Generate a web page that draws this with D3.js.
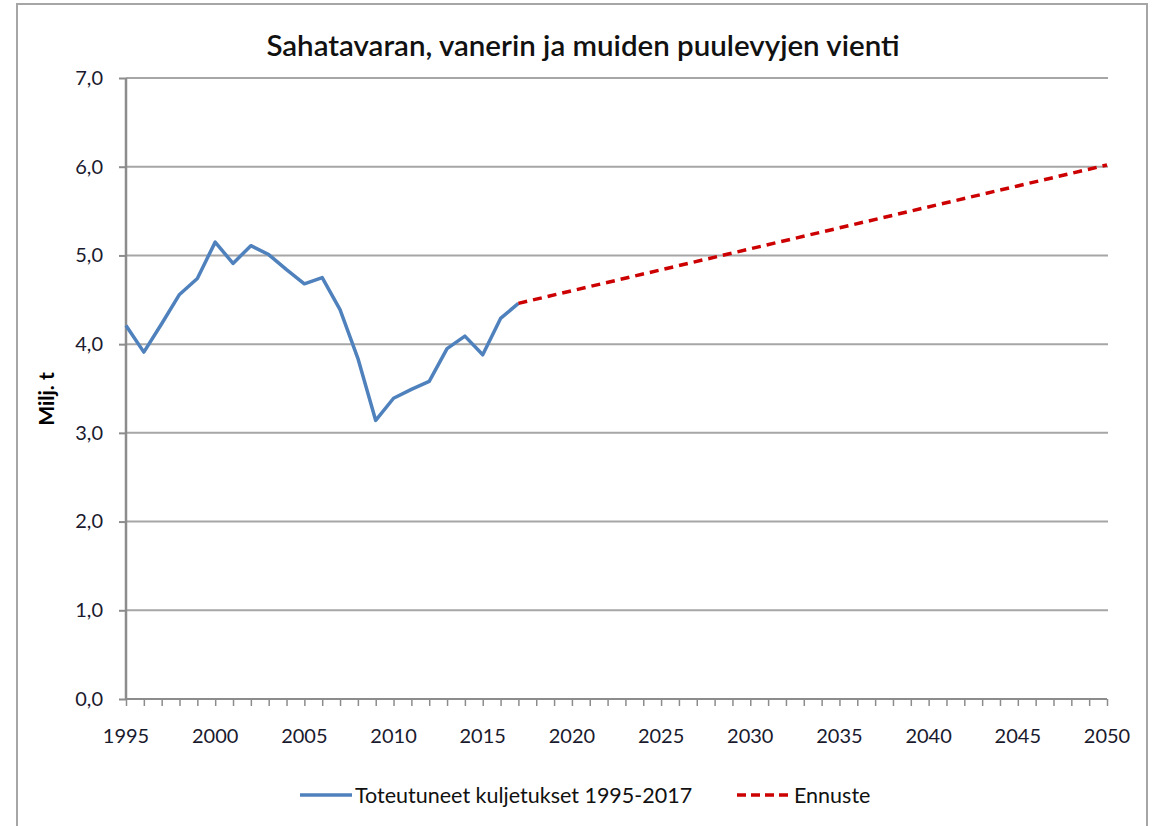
<!DOCTYPE html>
<html><head><meta charset="utf-8">
<script src="https://cdn.jsdelivr.net/npm/d3@7"></script>
<style>body{margin:0;background:#fff}svg{display:block}text{font-family:Lato,"Open Sans",sans-serif}</style>
</head><body>
<script>
const title = "Sahatavaran, vanerin ja muiden puulevyjen vienti";
const yAxisTitle = "Milj. t";
const actualYears = [1995,1996,1997,1998,1999,2000,2001,2002,2003,2004,2005,2006,2007,2008,2009,2010,2011,2012,2013,2014,2015,2016,2017];
const actualValues = [4.21,3.91,4.23,4.56,4.74,5.15,4.91,5.11,5.01,4.84,4.68,4.75,4.39,3.84,3.14,3.39,3.49,3.58,3.95,4.09,3.88,4.29,4.46];
const forecastYears = [2017,2050];
const forecastValues = [4.46,6.02];
const yTicks = [0,1,2,3,4,5,6,7];
const xLabelYears = [1995,2000,2005,2010,2015,2020,2025,2030,2035,2040,2045,2050];
const legendLabels = ["Toteutuneet kuljetukset 1995-2017","Ennuste"];

const W=1157,H=826;
const svg=d3.select("body").append("svg").attr("width",W).attr("height",H);
// frame
svg.append("path").attr("d","M17,840 V4 H1147 V840").attr("fill","none").attr("stroke","#a6a6a6").attr("stroke-width",2);

const x=d3.scaleLinear().domain([1995,2050]).range([126,1107]);
const y=d3.scaleLinear().domain([0,7]).range([699,78]);

// gridlines
svg.append("g").selectAll("line").data(yTicks.filter(d=>d>0)).join("line")
  .attr("x1",126).attr("x2",1108).attr("y1",d=>y(d)).attr("y2",d=>y(d))
  .attr("stroke","#a6a6a6").attr("stroke-width",2);

// y axis
const ya=svg.append("g").attr("transform","translate(126,0)")
  .call(d3.axisLeft(y).tickValues(yTicks).tickSize(7).tickPadding(16).tickFormat(d=>d3.format(".1f")(d).replace(".",",")));
ya.select(".domain").attr("stroke","#8c8c8c").attr("stroke-width",2.5).attr("d","M0,78V699");
ya.selectAll(".tick line").attr("stroke","#8c8c8c").attr("stroke-width",2);
ya.selectAll("text").attr("font-size",20).attr("fill","#1a1a2e");

// x axis
const xa=svg.append("g").attr("transform","translate(0,699)")
  .call(d3.axisBottom(x).tickValues(d3.range(1995,2051)).tickSize(7).tickFormat(""));
xa.select(".domain").attr("stroke","#8c8c8c").attr("stroke-width",2).attr("d","M126,0H1107");
xa.selectAll(".tick line").attr("stroke","#8c8c8c").attr("stroke-width",1.5);
svg.append("g").selectAll("text").data(xLabelYears).join("text")
  .attr("x",d=>x(d)).attr("y",743).attr("text-anchor","middle").attr("font-size",20).attr("fill","#1a1a2e").text(d=>d);

// lines
const line=d3.line().x(d=>x(d[0])).y(d=>y(d[1]));
svg.append("path").datum(actualYears.map((d,i)=>[d,actualValues[i]])).attr("d",line)
  .attr("fill","none").attr("stroke","#4f81bd").attr("stroke-width",3.5).attr("stroke-linejoin","round");
svg.append("path").datum(forecastYears.map((d,i)=>[d,forecastValues[i]])).attr("d",line)
  .attr("fill","none").attr("stroke","#cc0000").attr("stroke-width",3.5).attr("stroke-dasharray","9,6");

// title
svg.append("text").attr("x",583).attr("y",56).attr("text-anchor","middle").attr("font-size",29.5).attr("font-weight",600).attr("fill","#111").text(title);
// y title
svg.append("text").attr("transform","translate(54,399) rotate(-90)").attr("text-anchor","middle").attr("font-size",21).attr("font-weight",700).attr("fill","#000").text(yAxisTitle);

// legend
svg.append("line").attr("x1",300).attr("x2",352).attr("y1",795).attr("y2",795).attr("stroke","#4f81bd").attr("stroke-width",3.5);
svg.append("text").attr("x",355).attr("y",803).attr("font-size",21.5).attr("fill","#111").text(legendLabels[0]);
svg.append("line").attr("x1",737).attr("x2",790).attr("y1",795).attr("y2",795).attr("stroke","#cc0000").attr("stroke-width",3.5).attr("stroke-dasharray","9,5");
svg.append("text").attr("x",794).attr("y",803).attr("font-size",21.5).attr("fill","#111").text(legendLabels[1]);
</script>
</body></html>
